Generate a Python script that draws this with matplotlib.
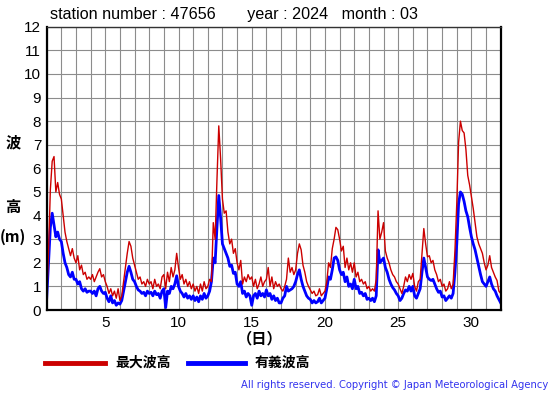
import matplotlib
matplotlib.use("Agg")
import matplotlib.pyplot as plt
import numpy as np

# 3-hourly values, day 1 00h ... day 31 21h, plus end point (day 32 00h)
max_wave = [
    0.5, 2.5, 5.1, 6.3, 6.5, 5.0, 5.4, 4.9,      # 1
    4.7, 4.0, 3.3, 2.9, 2.6, 2.3, 2.6, 2.2,      # 2
    2.0, 2.3, 1.7, 1.9, 1.5, 1.6, 1.3, 1.4,      # 3
    1.3, 1.5, 1.2, 1.4, 1.6, 1.75, 1.4, 1.5,     # 4
    1.2, 1.0, 0.7, 0.9, 0.6, 0.8, 0.5, 0.9,      # 5
    0.4, 0.6, 1.2, 1.8, 2.4, 2.9, 2.7, 2.2,      # 6
    1.9, 1.6, 1.3, 1.4, 1.1, 1.2, 1.0, 1.3,      # 7
    1.1, 1.2, 0.9, 1.3, 1.0, 1.1, 0.9, 1.4,      # 8
    1.5, 0.9, 1.6, 1.2, 1.8, 1.4, 1.7, 2.4,      # 9
    1.8, 1.3, 1.5, 1.1, 1.3, 1.0, 1.2, 0.9,      # 10
    1.1, 0.8, 1.0, 0.7, 1.1, 0.8, 1.2, 0.9,      # 11
    1.0, 1.3, 1.2, 3.7, 3.0, 5.5, 7.8, 6.4,      # 12
    4.7, 4.1, 4.2, 3.3, 2.8, 3.0, 2.4, 2.6,      # 13
    2.0, 1.7, 2.1, 1.1, 1.4, 1.2, 1.5, 1.3,      # 14
    1.4, 1.0, 1.3, 0.9, 1.1, 1.4, 1.0, 1.2,      # 15
    1.3, 1.8, 1.0, 1.4, 0.9, 1.2, 1.0, 1.1,      # 16
    0.9, 0.8, 1.0, 1.3, 2.2, 1.6, 1.8, 1.5,      # 17
    1.7, 2.4, 2.8, 2.55, 1.9, 1.6, 1.2, 1.0,     # 18
    0.85, 0.7, 0.8, 0.6, 0.65, 0.9, 0.6, 0.7,    # 19
    0.8, 1.2, 2.0, 1.8, 2.6, 3.0, 3.5, 3.4,      # 20
    3.0, 2.5, 2.7, 1.8, 2.2, 1.7, 2.0, 1.6,      # 21
    2.0, 1.4, 1.6, 1.2, 1.3, 1.1, 1.2, 0.9,      # 22
    1.0, 0.8, 0.9, 0.8, 1.3, 4.2, 3.0, 3.3,      # 23
    3.7, 2.5, 2.2, 2.0, 1.7, 1.5, 1.4, 1.2,      # 24
    1.1, 0.9, 0.7, 1.0, 1.4, 1.2, 1.5, 1.3,      # 25
    1.55, 1.0, 0.8, 1.2, 1.3, 2.4, 3.45, 2.8,    # 26
    2.25, 2.3, 2.0, 2.1, 1.7, 1.5, 1.2, 1.3,     # 27
    1.0, 1.1, 0.8, 0.9, 1.2, 0.9, 1.1, 2.5,      # 28
    4.5, 7.1, 8.0, 7.6, 7.5, 6.8, 5.7, 5.3,      # 29
    4.8, 4.3, 3.7, 3.1, 2.8, 2.6, 2.4, 2.0,      # 30
    1.7, 1.9, 2.3, 1.8, 1.6, 1.4, 1.25, 0.8,     # 31
    0.7,
]
sig_wave = [
    0.5, 2.0, 3.5, 4.1, 3.6, 3.1, 3.3, 3.0,      # 1
    2.9, 2.4, 2.0, 1.8, 1.5, 1.4, 1.6, 1.3,      # 2
    1.3, 1.1, 1.2, 0.9, 0.8, 0.9, 0.75, 0.8,     # 3
    0.8, 0.7, 0.8, 0.6, 0.9, 1.0, 0.8, 0.7,      # 4
    0.75, 0.5, 0.35, 0.6, 0.3, 0.4, 0.2, 0.3,    # 5
    0.25, 0.4, 0.8, 1.2, 1.6, 1.85, 1.6, 1.3,    # 6
    1.2, 1.0, 0.85, 0.8, 0.7, 0.75, 0.6, 0.8,    # 7
    0.7, 0.75, 0.6, 0.8, 0.65, 0.7, 0.5, 0.8,    # 8
    0.9, 0.1, 0.8, 0.7, 1.0, 0.9, 1.1, 1.45,     # 9
    1.0, 0.8, 0.7, 0.55, 0.7, 0.5, 0.6, 0.45,    # 10
    0.6, 0.4, 0.55, 0.35, 0.6, 0.45, 0.7, 0.5,   # 11
    0.6, 0.8, 1.2, 2.2, 2.0, 3.5, 4.85, 3.9,     # 12
    2.8, 2.6, 2.4, 2.2, 1.85, 1.9, 1.55, 1.6,    # 13
    1.1, 1.0, 1.2, 0.7, 0.8, 0.55, 0.7, 0.6,     # 14
    0.2, 0.6, 0.7, 0.5, 0.8, 0.6, 0.7, 0.55,     # 15
    0.85, 0.6, 0.7, 0.45, 0.6, 0.4, 0.5, 0.3,    # 16
    0.3, 0.5, 0.6, 1.0, 0.8, 0.85, 0.9, 1.0,     # 17
    1.2, 1.5, 1.7, 1.3, 1.0, 0.8, 0.6, 0.5,      # 18
    0.45, 0.3, 0.4, 0.3, 0.35, 0.5, 0.3, 0.4,    # 19
    0.5, 0.9, 1.4, 1.3, 1.7, 2.2, 2.25, 2.1,     # 20
    1.7, 1.5, 1.6, 1.2, 1.4, 1.0, 1.1, 0.9,      # 21
    1.3, 0.9, 1.0, 0.7, 0.75, 0.6, 0.7, 0.45,    # 22
    0.5, 0.4, 0.5, 0.35, 0.6, 2.55, 2.0, 2.1,    # 23
    2.2, 1.8, 1.6, 1.3, 1.1, 0.95, 0.85, 0.7,    # 24
    0.6, 0.4, 0.5, 0.7, 0.85, 0.8, 1.0, 0.8,     # 25
    1.0, 0.6, 0.5, 0.7, 0.9, 1.6, 2.2, 1.8,      # 26
    1.4, 1.3, 1.25, 1.3, 1.1, 0.9, 0.75, 0.8,    # 27
    0.55, 0.6, 0.4, 0.5, 0.6, 0.5, 0.7, 1.6,     # 28
    2.8, 4.5, 5.0, 4.9, 4.6, 4.2, 3.95, 3.5,     # 29
    3.1, 2.8, 2.55, 2.2, 1.85, 1.5, 1.2, 1.1,    # 30
    1.0, 1.2, 1.4, 1.1, 0.9, 0.8, 0.6, 0.45,     # 31
    0.3,
]
x_ticks = [5, 10, 15, 20, 25, 30]
y_ticks = list(range(0, 13))
legend_labels = ["最大波高", "有義波高"]

t = 1 + np.arange(len(max_wave)) / 8.0

plt.rcParams['font.family'] = ['Liberation Sans', 'DejaVu Sans']
fig = plt.figure(figsize=(5.55, 3.95), dpi=100)
ax = fig.add_axes([46.7/555, 85/395, 454/555, 283.3/395])

ax.set_xlim(1, 32)
ax.set_ylim(0, 12)
ax.set_xticks(np.arange(1, 33), minor=True)
ax.set_xticks(x_ticks)
ax.set_yticks(y_ticks)
ax.grid(True, which='both', color='#8c8c8c', linewidth=0.8)
ax.set_axisbelow(True)
ax.tick_params(which='both', length=0)
ax.tick_params(axis='y', pad=4, labelsize=11)
ax.tick_params(axis='x', pad=4, labelsize=11)
for s in ['left', 'bottom', 'right']:
    ax.spines[s].set_linewidth(1.6)
    ax.spines[s].set_color('black')
ax.spines['top'].set_linewidth(1.0)
ax.spines['top'].set_color('#333333')

ax.plot(t, sig_wave, color='#0000ff', linewidth=2.0)
ax.plot(t, max_wave, color='#cc0000', linewidth=1.0)

cjk = ['Noto Sans CJK JP', 'DejaVu Sans']
fig.text(50/555, 1 - 15/395, "station number : 47656       year : 2024   month : 03",
         fontsize=11.6, va='center', ha='left')
fig.text(13/555, 1 - 142/395, "波", family=cjk, fontsize=11, fontweight='bold', ha='center', va='center')
fig.text(13/555, 1 - 207/395, "高", family=cjk, fontsize=11, fontweight='bold', ha='center', va='center')
fig.text(13/555, 1 - 237/395, "(m)", family=cjk, fontsize=11, fontweight='bold', ha='center', va='center')
fig.text(260/555, 1 - 338/395, "（日）", family=cjk, fontsize=11, fontweight='bold', ha='center', va='center')

# legend
fig.add_artist(plt.Line2D([45/555, 105/555], [1 - 363/395, 1 - 363/395], color='#cc0000', linewidth=3.5))
fig.text(115/555, 1 - 363/395, legend_labels[0], family=cjk, fontsize=10, fontweight='bold', ha='left', va='center')
fig.add_artist(plt.Line2D([188/555, 245/555], [1 - 363/395, 1 - 363/395], color='#0000ff', linewidth=3.5))
fig.text(255/555, 1 - 363/395, legend_labels[1], family=cjk, fontsize=10, fontweight='bold', ha='left', va='center')

fig.text(548/555, 1 - 385/395, "All rights reserved. Copyright © Japan Meteorological Agency",
         color='#3333ee', fontsize=7.2, ha='right', va='center', family=['DejaVu Sans'])

fig.savefig("out.png", dpi=100)
